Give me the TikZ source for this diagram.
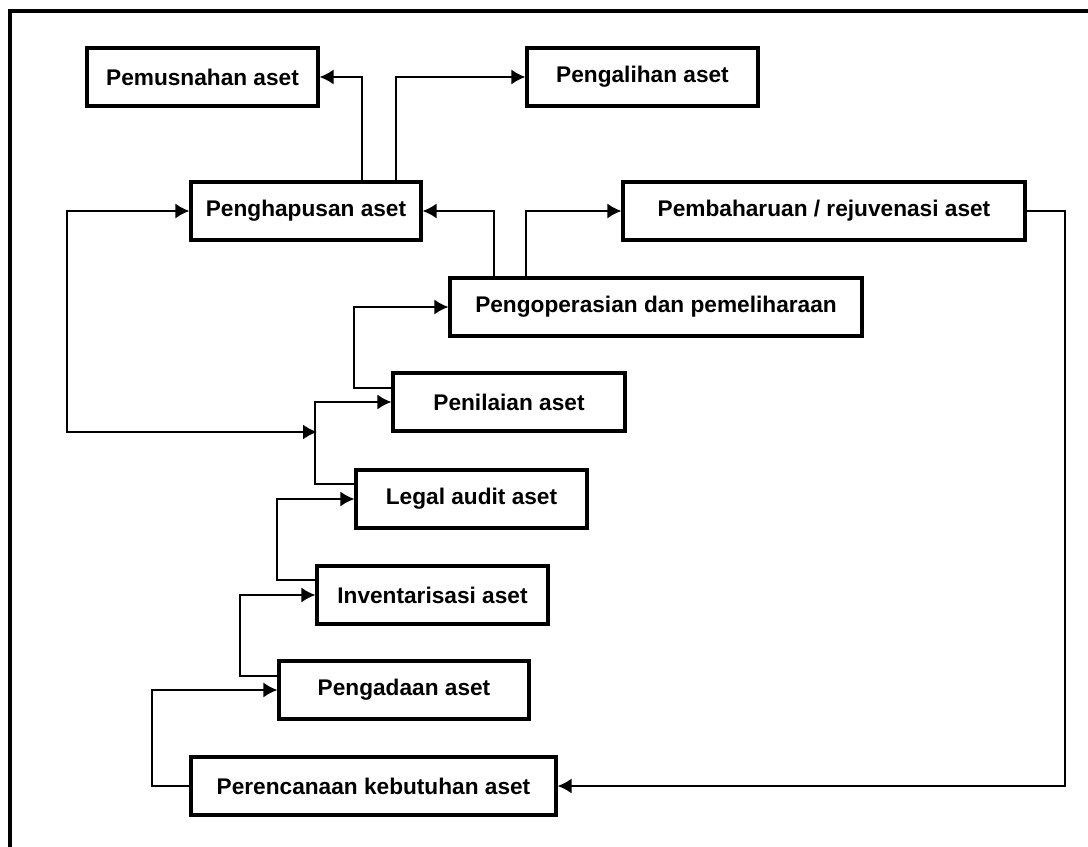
\documentclass[tikz,border=0pt]{standalone}
\usepackage{fontspec}
\setmainfont{Liberation Sans}
\usetikzlibrary{positioning, calc, arrows.meta}

\tikzset{
  box/.style={draw, line width=1.8pt, minimum height=58*0.02cm, inner sep=0pt,
    font=\fontsize{12.9}{15}\selectfont\bfseries},
  conn/.style={line width=1.1pt, -{Latex[length=2.8mm,width=3mm]}}
}

\begin{document}
\begin{tikzpicture}[x=0.02cm, y=-0.02cm]
      \useasboundingbox (0,0) rectangle (1088,847);
      \draw[line width=1.8pt] (10,847) |- (1088,11);
      \node[box, minimum width=231*0.02cm] (pemusnahan) at (202.5,77) {Pemusnahan aset};
      \node[box, minimum width=231*0.02cm] (pengalihan) at (642.5,77) {Pengalihan aset};
      \node[box, minimum width=230*0.02cm] (penghapusan) at (306,211) {Penghapusan aset};
      \node[box, minimum width=402*0.02cm] (pembaharuan) at (824,211) {Pembaharuan / rejuvenasi aset};
      \node[box, minimum width=412*0.02cm] (pengoperasian) at (656,307) {Pengoperasian dan pemeliharaan};
      \node[box, minimum width=232*0.02cm] (penilaian) at (509,402) {Penilaian aset};
      \node[box, minimum width=231*0.02cm] (legal) at (471.5,499) {Legal audit aset};
      \node[box, minimum width=231*0.02cm] (inventarisasi) at (432.5,595) {Inventarisasi aset};
      \node[box, minimum width=250*0.02cm] (pengadaan) at (404,690) {Pengadaan aset};
      \node[box, minimum width=365*0.02cm] (perencanaan) at (373.5,786) {Perencanaan kebutuhan aset};
      \coordinate (join) at (317,432);
      \draw[conn] (perencanaan.west) -- ++(-37,0) |- (pengadaan.west);
      \draw[conn] ($(pengadaan.west)+(0,-14)$) -- ++(-37,0) |- (inventarisasi.west);
      \draw[conn] ($(inventarisasi.west)+(0,-15)$) -- ++(-38,0) |- (legal.west);
      \draw[conn] ($(legal.west)+(0,-15)$) -- ++(-39,0) |- (penilaian.west);
      \draw[conn] ($(penilaian.west)+(0,-14)$) -- ++(-37,0) |- (pengoperasian.west);
      \draw[conn] ($(pengoperasian.north west)+(46,0)$) |- (penghapusan.east);
      \draw[conn] ($(pengoperasian.north west)+(78,0)$) |- (pembaharuan.west);
      \draw[conn] (pembaharuan.east) -- ++(38,0) |- (perencanaan.east);
      \draw[conn] ($(penghapusan.north west)+(173,0)$) |- (pemusnahan.east);
      \draw[conn] ($(penghapusan.north west)+(207,0)$) |- (pengalihan.west);
      \draw[conn, {Latex[length=2.8mm,width=3mm]}-{Latex[length=2.8mm,width=3mm]}] (penghapusan.west) -- ++(-122,0) |- (join);
    \end{tikzpicture}
\end{document}
